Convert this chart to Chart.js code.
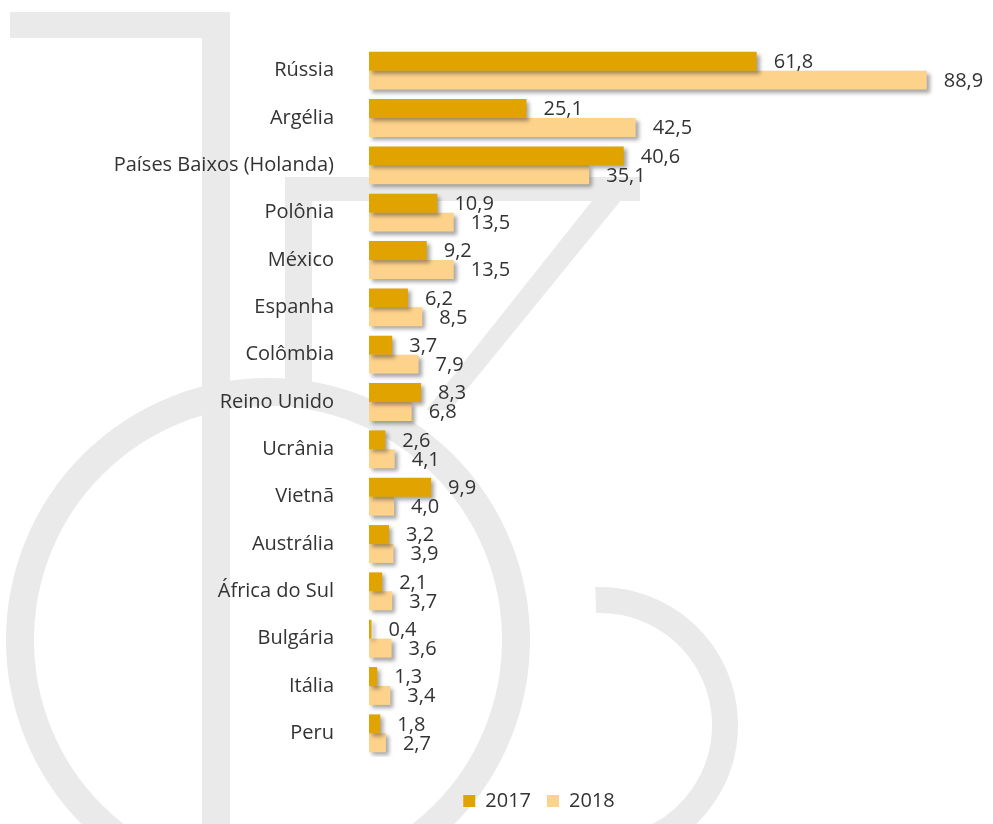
<!DOCTYPE html>
<html>
<head>
<meta charset="utf-8">
<script src="https://cdn.jsdelivr.net/npm/chart.js@4/dist/chart.umd.min.js"></script>
<style>
  body { margin: 0; background: #fff; }
  #wrap { width: 993px; height: 824px; }
</style>
</head>
<body>
<div id="wrap"><canvas id="myChart" width="993" height="824"></canvas></div>
<script>
// data
const countries = ["Rússia", "Argélia", "Países Baixos (Holanda)", "Polônia", "México", "Espanha",
  "Colômbia", "Reino Unido", "Ucrânia", "Vietnã", "Austrália", "África do Sul", "Bulgária", "Itália", "Peru"];
const values_2017 = [61.8, 25.1, 40.6, 10.9, 9.2, 6.2, 3.7, 8.3, 2.6, 9.9, 3.2, 2.1, 0.4, 1.3, 1.8];
const values_2018 = [88.9, 42.5, 35.1, 13.5, 13.5, 8.5, 7.9, 6.8, 4.1, 4.0, 3.9, 3.7, 3.6, 3.4, 2.7];
const series_labels = ["2017", "2018"];

const color_2017 = "#E1A300";
const color_2018 = "#FDD38C";
const text_color = "#333333";
const font_family = "'Open Sans', sans-serif";

// light grey logo behind the chart
const watermark = {
  id: "watermark",
  beforeDraw(chart) {
    const c = chart.ctx;
    c.save();
    c.fillStyle = "#fff";
    c.fillRect(0, 0, chart.width, chart.height);
    c.fillStyle = "#ebeaea";
    c.strokeStyle = "#ebeaea";
    c.fillRect(10, 12, 220, 26);
    c.fillRect(202, 12, 28, 812);
    c.fillRect(285, 177, 355, 24);
    c.fillRect(285, 177, 27, 223);
    c.beginPath();
    c.moveTo(611, 177); c.lineTo(640, 177); c.lineTo(450, 410); c.lineTo(426, 410);
    c.closePath();
    c.fill();
    c.lineWidth = 28;
    c.beginPath();
    c.arc(268, 640, 248, 0, Math.PI * 2);
    c.stroke();
    c.lineWidth = 26;
    c.beginPath();
    c.arc(600, 725, 125, -92 * Math.PI / 180, 70 * Math.PI / 180);
    c.stroke();
    c.restore();
  }
};

// soft drop shadow under the bars
const bar_shadow = {
  id: "barShadow",
  beforeDatasetsDraw(chart) {
    const c = chart.ctx;
    c.save();
    c.shadowColor = "rgba(0,0,0,0.35)";
    c.shadowOffsetX = 3;
    c.shadowOffsetY = 3;
    c.shadowBlur = 4;
  },
  afterDatasetsDraw(chart) {
    chart.ctx.restore();
  }
};

// value labels at the end of each bar
const value_labels = {
  id: "valueLabels",
  afterDatasetsDraw(chart) {
    const c = chart.ctx;
    c.save();
    c.font = "20px " + font_family;
    c.fillStyle = text_color;
    c.textAlign = "left";
    c.textBaseline = "middle";
    chart.data.datasets.forEach((ds, i) => {
      const meta = chart.getDatasetMeta(i);
      meta.data.forEach((bar, j) => {
        const txt = ds.data[j].toFixed(1).replace(".", ",");
        c.fillText(txt, bar.x + 17, bar.y + 1);
      });
    });
    c.restore();
  }
};

var ctx = document.getElementById("myChart");
var chart = new Chart(ctx, {
  type: "bar",
  data: {
    labels: countries,
    datasets: [{
      label: series_labels[0],
      data: values_2017,
      backgroundColor: color_2017,
      borderWidth: 0
    }, {
      label: series_labels[1],
      data: values_2018,
      backgroundColor: color_2018,
      borderWidth: 0
    }]
  },
  options: {
    indexAxis: "y",
    responsive: false,
    animation: false,
    layout: { padding: { left: 113, right: 28, top: 46, bottom: 3 } },
    datasets: { bar: { categoryPercentage: 0.8, barPercentage: 1.0 } },
    scales: {
      x: { display: false, min: 0, max: 95 },
      y: {
        grid: { display: false, drawTicks: false },
        border: { display: false },
        ticks: { color: text_color, padding: 35, font: { size: 20, family: font_family } },
        afterFit(scale) { scale.width = 256; }
      }
    },
    plugins: {
      tooltip: { enabled: false },
      legend: {
        position: "bottom",
        title: { display: true, text: "", font: { size: 10 }, padding: { top: 6, bottom: 0 } },
        labels: {
          boxWidth: 12, boxHeight: 12, padding: 16,
          color: text_color,
          font: { size: 20, family: font_family }
        }
      }
    }
  },
  plugins: [watermark, bar_shadow, value_labels]
});
</script>
</body>
</html>
